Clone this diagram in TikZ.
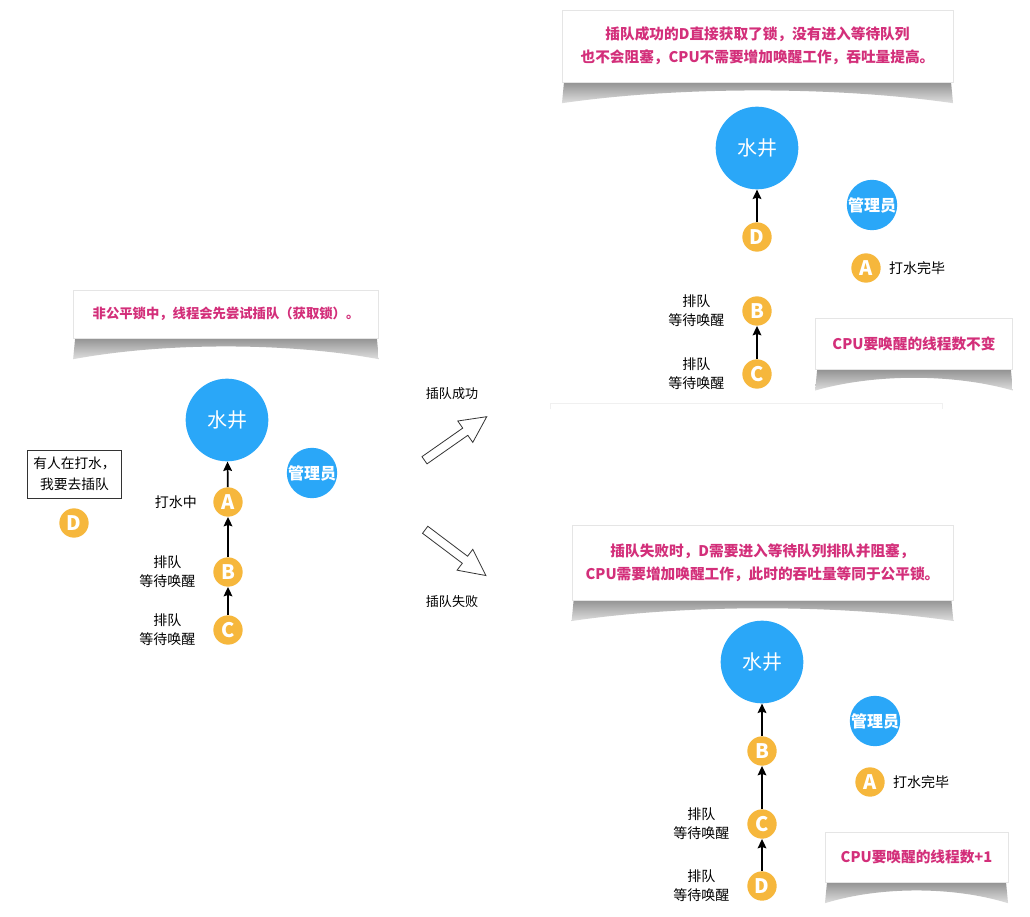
\documentclass[tikz,border=0pt]{standalone}
\usepackage{fontspec}
\setmainfont{Noto Sans CJK SC}
\usetikzlibrary{positioning,shapes.arrows,backgrounds,calc,arrows.meta}

\definecolor{wellblue}{RGB}{42,167,248}
\definecolor{threadorange}{RGB}{246,183,60}
\definecolor{notepink}{RGB}{211,47,122}

% 便签下方的弯曲阴影
\newcommand{\noteshadow}[1]{%
	\begin{scope}[on background layer]
		\shade[top color=gray!85, bottom color=gray!25]
			($(#1.south west)+(2,0)$) -- ($(#1.south west)+(0,21)$)
			.. controls ($(#1.south west)!0.3!(#1.south east)+(0,4)$) and ($(#1.south west)!0.7!(#1.south east)+(0,4)$) ..
			($(#1.south east)+(0,21)$) -- ($(#1.south east)+(-2,0)$) -- cycle;
	\end{scope}}

\begin{document}
\begin{tikzpicture}[x=0.75pt, y=-0.75pt, >={Stealth[length=7pt, width=6.5pt, inset=1pt]},
		well/.style={circle, fill=wellblue, text=white, minimum size=62pt, inner sep=0pt, font=\fontsize{15}{15}\selectfont},
		admin/.style={circle, fill=wellblue, text=white, minimum size=37pt, inner sep=0pt, font=\bfseries\fontsize{12}{12}\selectfont},
		thread/.style={circle, fill=threadorange, text=white, minimum size=22pt, inner sep=0pt, font=\bfseries\fontsize{15}{15}\selectfont},
		tag/.style={align=center, inner sep=0pt, font=\fontsize{10.5}{14.5}\selectfont},
		note/.style={fill=white, draw=gray!20, line width=0.3pt, align=center, text=notepink, font=\bfseries\fontsize{11}{17}\selectfont},
		flow/.style={->, line width=1.3pt},
		hollow/.style={single arrow, draw=black!80, fill=white, line width=0.6pt, minimum height=57pt, inner sep=3pt,
			single arrow head extend=6.5pt, single arrow tip angle=53}]
	
	% 背景
	\begin{scope}[on background layer]
		\fill[white] (0,0) rectangle (1030,916);
	\end{scope}
	
	% 左：初始状态
	\node[note, minimum width=229pt, minimum height=36pt, font=\bfseries\fontsize{10}{12}\selectfont] (noteleft) at (226,314) {非公平锁中，线程会先尝试插队（获取锁）。};
	\noteshadow{noteleft}
	\node[well] (wellL) at (227,420) {水井};
	\node[admin] (adminL) at (312,473) {管理员};
	\node[thread] (aL) at (228,502) {A};
	\node[thread] (bL) at (228,572) {B};
	\node[thread] (cL) at (228,630) {C};
	\node[tag, left=12pt of aL] (aLtag) {打水中};
	\node[tag, left=13pt of bL] (bLtag) {排队\\等待唤醒};
	\node[tag, left=13pt of cL] (cLtag) {排队\\等待唤醒};
	\draw[flow] (aL) -- (wellL);
	\draw[flow] (bL) -- (aL);
	\draw[flow] (cL) -- (bL);
	\node[draw=black!80, line width=0.6pt, align=center, minimum width=71pt, minimum height=36pt, inner sep=2pt,
		font=\fontsize{10.3}{16}\selectfont] (wish) at (74.5,474) {有人在打水，\\我要去插队};
	\node[thread] (dL) at (74,523) {D};
	
	% 中：两种结果
	\node[hollow, rotate=35] (goodmove) at (452,441) {};
	\node[hollow, rotate=-37] (badmove) at (452,550) {};
	\node[tag, font=\fontsize{9.8}{12}\selectfont] (goodtag) at (452,394) {插队成功};
	\node[tag, font=\fontsize{9.8}{12}\selectfont] (badtag) at (452,602) {插队失败};
	
	% 右上：插队成功
	\node[note, minimum width=293pt, minimum height=54pt] (notegood) at (757.5,46) {插队成功的D直接获取了锁，没有进入等待队列\\也不会阻塞，CPU不需要增加唤醒工作，吞吐量提高。};
	\noteshadow{notegood}
	\node[well] (wellG) at (757,148) {水井};
	\node[admin] (adminG) at (872,205) {管理员};
	\node[thread] (dG) at (757,237) {D};
	\node[thread] (aG) at (866,268) {A};
	\node[thread] (bG) at (757,311) {B};
	\node[thread] (cG) at (757,374) {C};
	\node[tag, right=6pt of aG] (aGtag) {打水完毕};
	\node[tag, left=13pt of bG] (bGtag) {排队\\等待唤醒};
	\node[tag, left=13pt of cG] (cGtag) {排队\\等待唤醒};
	\draw[flow] (dG) -- (wellG);
	\draw[flow] (cG) -- (bG);
	\node[note, minimum width=148pt, minimum height=38pt] (countgood) at (914,344) {CPU要唤醒的线程数不变};
	\noteshadow{countgood}
	\draw[gray!12, line width=0.6pt] (550,409) -- (550,403) -- (942,403) -- (942,409);
	
	% 右下：插队失败
	\node[note, minimum width=286pt, minimum height=56pt] (notebad) at (762.5,562.5) {插队失败时，D需要进入等待队列排队并阻塞，\\CPU需要增加唤醒工作，此时的吞吐量等同于公平锁。};
	\noteshadow{notebad}
	\node[well] (wellB) at (762,662) {水井};
	\node[admin] (adminB) at (875,721) {管理员};
	\node[thread] (bB) at (762,751) {B};
	\node[thread] (aB) at (870,782) {A};
	\node[thread] (cB) at (762,824) {C};
	\node[thread] (dB) at (762,886) {D};
	\node[tag, right=6pt of aB] (aBtag) {打水完毕};
	\node[tag, left=13pt of cB] (cBtag) {排队\\等待唤醒};
	\node[tag, left=13pt of dB] (dBtag) {排队\\等待唤醒};
	\draw[flow] (bB) -- (wellB);
	\draw[flow] (cB) -- (bB);
	\draw[flow] (dB) -- (cB);
	\node[note, minimum width=137pt, minimum height=37.5pt] (countbad) at (916.5,857) {CPU要唤醒的线程数+1};
	\noteshadow{countbad}
\end{tikzpicture}
\end{document}
